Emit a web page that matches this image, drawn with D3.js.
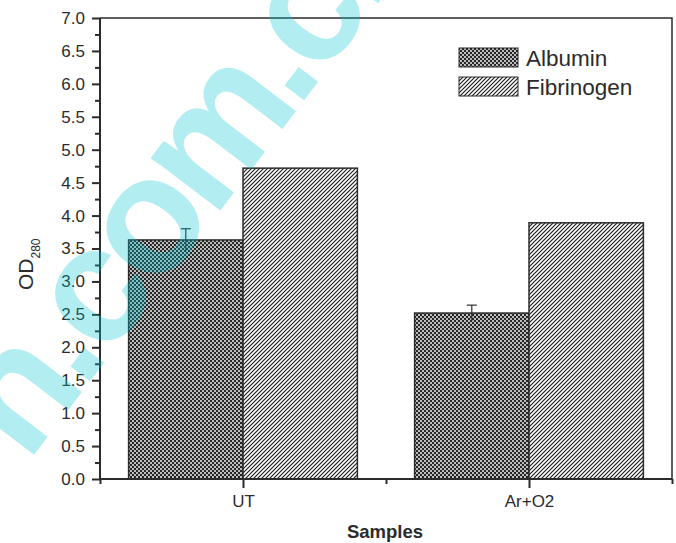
<!DOCTYPE html>
<html>
<head>
<meta charset="utf-8">
<script src="https://cdn.jsdelivr.net/npm/d3@7"></script>
<style>
  html, body { margin: 0; padding: 0; background: #fff; }
  svg { display: block; font-family: "Liberation Sans", Arial, sans-serif; }
</style>
</head>
<body>
<svg id="chart" width="676" height="543"></svg>
<script>
// Protein adsorption (OD at 280 nm) for untreated and Ar+O2 treated samples
const categories = ["UT", "Ar+O2"];
const albumin = [3.63, 2.52];
const albuminErr = [0.17, 0.12];
const fibrinogen = [4.72, 3.89];
const seriesNames = ["Albumin", "Fibrinogen"];
const yMajorTicks = [0, 0.5, 1, 1.5, 2, 2.5, 3, 3.5, 4, 4.5, 5, 5.5, 6, 6.5, 7];
const yMinorTicks = [0.25, 0.75, 1.25, 1.75, 2.25, 2.75, 3.25, 3.75, 4.25, 4.75, 5.25, 5.75, 6.25, 6.75];
const xMinorTicks = [0.5, 1.5, 2.5];

const ink = "#2b2b2b";
const svg = d3.select("#chart");
const plotLeft = 100, plotRight = 672, plotTop = 18, plotBottom = 479;

const x = d3.scaleLinear().domain([0.5, 2.5]).range([plotLeft, plotRight]);
const y = d3.scaleLinear().domain([0, 7]).range([plotBottom, plotTop]);
const barW = 0.4;

// fill patterns: dotted crosshatch and diagonal hatch
const defs = svg.append("defs");
const cross = defs.append("pattern").attr("id", "cross")
  .attr("patternUnits", "userSpaceOnUse").attr("width", 4).attr("height", 4);
cross.append("rect").attr("width", 4).attr("height", 4).attr("fill", "#262626");
cross.selectAll("circle").data([[1, 1], [3, 3]]).join("circle")
  .attr("cx", d => d[0]).attr("cy", d => d[1]).attr("r", 0.95).attr("fill", "#fff");

const hatch = defs.append("pattern").attr("id", "hatch")
  .attr("patternUnits", "userSpaceOnUse").attr("width", 4).attr("height", 4);
hatch.append("rect").attr("width", 4).attr("height", 4).attr("fill", "#fff");
hatch.append("path").attr("d", "M0,4L4,0M-1,1L1,-1M3,5L5,3")
  .attr("stroke", "#1c1c1c").attr("stroke-width", 1.15);

const fills = ["url(#cross)", "url(#hatch)"];

// bars
const bars = svg.append("g");
categories.forEach((c, i) => {
  const pos = i + 1;
  bars.append("rect")
    .attr("x", x(pos - barW)).attr("y", y(albumin[i]))
    .attr("width", x(pos) - x(pos - barW)).attr("height", y(0) - y(albumin[i]))
    .attr("fill", fills[0]).attr("stroke", ink).attr("stroke-width", 1.5);
  bars.append("rect")
    .attr("x", x(pos)).attr("y", y(fibrinogen[i]))
    .attr("width", x(pos + barW) - x(pos)).attr("height", y(0) - y(fibrinogen[i]))
    .attr("fill", fills[1]).attr("stroke", ink).attr("stroke-width", 1.5);
  // error bar on albumin
  const cx = x(pos - barW / 2);
  bars.append("line")
    .attr("x1", cx).attr("x2", cx)
    .attr("y1", y(albumin[i] - albuminErr[i])).attr("y2", y(albumin[i] + albuminErr[i]))
    .attr("stroke", ink).attr("stroke-width", 1.2);
  bars.append("line")
    .attr("x1", cx - 5).attr("x2", cx + 5)
    .attr("y1", y(albumin[i] + albuminErr[i])).attr("y2", y(albumin[i] + albuminErr[i]))
    .attr("stroke", ink).attr("stroke-width", 1.2);
});

// frame (top and right)
svg.append("path")
  .attr("d", `M${plotLeft},${plotTop}H${plotRight}V${plotBottom}`)
  .attr("fill", "none").attr("stroke", ink).attr("stroke-width", 1.5);

// y axis
const yAxis = svg.append("g").attr("transform", `translate(${plotLeft},0)`)
  .call(d3.axisLeft(y).tickValues(yMajorTicks).tickFormat(d3.format(".1f"))
    .tickSize(8).tickPadding(7));
svg.append("g").attr("transform", `translate(${plotLeft},0)`)
  .call(d3.axisLeft(y).tickValues(yMinorTicks).tickFormat("").tickSize(5))
  .call(g => g.select(".domain").remove());

// x axis
const xAxis = svg.append("g").attr("transform", `translate(0,${plotBottom})`)
  .call(d3.axisBottom(x).tickValues([1, 2]).tickFormat(d => categories[d - 1])
    .tickSize(9).tickPadding(7));
svg.append("g").attr("transform", `translate(0,${plotBottom})`)
  .call(d3.axisBottom(x).tickValues(xMinorTicks).tickFormat("").tickSize(5))
  .call(g => g.select(".domain").remove());

svg.selectAll(".domain").attr("stroke", ink).attr("stroke-width", 2);
svg.selectAll(".tick line").attr("stroke", ink).attr("stroke-width", 2);
svg.selectAll(".tick text").attr("fill", ink)
  .style("font-size", "17px").style("font-family", "Liberation Sans, Arial, sans-serif");
yAxis.select(".domain").attr("d", `M0,${plotTop}V${plotBottom}`);
xAxis.select(".domain").attr("d", `M${plotLeft},0H${plotRight}`);

// axis titles
const yTitle = svg.append("text")
  .attr("transform", "translate(33,290) rotate(-90)")
  .attr("fill", ink);
yTitle.append("tspan").style("font-size", "21px").text("OD");
yTitle.append("tspan").style("font-size", "12px").attr("dy", 7).text("280");

svg.append("text")
  .attr("x", 385).attr("y", 538).attr("text-anchor", "middle")
  .attr("fill", ink).style("font-size", "18.5px").style("font-weight", "bold")
  .text("Samples");

// legend
const legend = svg.append("g");
seriesNames.forEach((name, i) => {
  legend.append("rect")
    .attr("x", 459).attr("y", 48 + i * 29).attr("width", 59).attr("height", 19)
    .attr("fill", fills[i]).attr("stroke", ink).attr("stroke-width", 1);
  legend.append("text")
    .attr("x", 526).attr("y", 66 + i * 29)
    .attr("fill", ink).style("font-size", "22.5px").text(name);
});

// translucent site mark running across the plot
svg.append("text")
  .attr("transform", "translate(27,464) rotate(-52.7)")
  .attr("fill", "#00c8d0").attr("fill-opacity", 0.3)
  .style("font-size", "165px").style("font-weight", "bold")
  .style("letter-spacing", "-8px")
  .style("pointer-events", "none")
  .text("n.com.cn");
</script>
</body>
</html>
